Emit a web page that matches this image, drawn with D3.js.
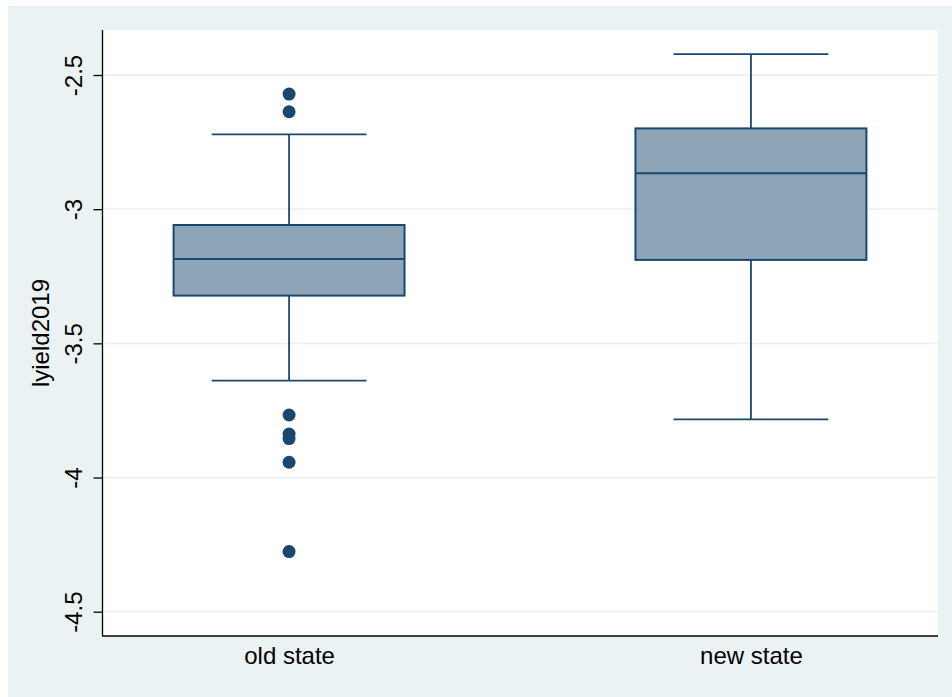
<!DOCTYPE html>
<html>
<head>
<meta charset="utf-8">
<script src="https://cdn.jsdelivr.net/npm/d3@7"></script>
<style>
  html, body { margin: 0; padding: 0; background: #ffffff; }
  svg { display: block; }
  text { font-family: "Liberation Sans", Arial, sans-serif; fill: #000; }
</style>
</head>
<body>
<svg id="chart" width="952" height="697"></svg>
<script>
// Groups and their box-plot summaries of lyield2019
const categories = ["old state", "new state"];
const q1 = [-3.322, -3.189];
const median = [-3.186, -2.866];
const q3 = [-3.059, -2.699];
const whiskerLow = [-3.639, -3.783];
const whiskerHigh = [-2.721, -2.422];
const outliers = [
  [-2.571, -2.637, -3.767, -3.838, -3.855, -3.943, -4.276],
  []
];
const yTicks = [-2.5, -3, -3.5, -4, -4.5];
const yTitle = "lyield2019";

const W = 952, H = 697;
const plot = { left: 102, right: 938, top: 30, bottom: 636 };
const navy = "#1a476f";
const boxFill = "#8ea5b8";
const bg = "#eaf2f3";

const svg = d3.select("#chart");

// Outer graph region and inner plot region
svg.append("rect").attr("x", 8).attr("y", 6).attr("width", W - 8).attr("height", H - 6).attr("fill", bg);
svg.append("rect").attr("x", plot.left).attr("y", plot.top)
  .attr("width", plot.right - plot.left).attr("height", plot.bottom - plot.top).attr("fill", "#fff");

const y = d3.scaleLinear().domain([-2.5, -4.5]).range([75, 611.7]);
const x = d3.scalePoint().domain(categories).range([plot.left, plot.right]).padding(0.405);
const step = x.step();
const boxW = step * 0.5;
const capW = step * 0.335;

// Horizontal grid lines
svg.append("g").selectAll("line").data(yTicks).join("line")
  .attr("x1", plot.left).attr("x2", plot.right)
  .attr("y1", d => y(d)).attr("y2", d => y(d))
  .attr("stroke", bg).attr("stroke-width", 1.8);

// Y axis with rotated tick labels
const yAxis = d3.axisLeft(y).tickValues(yTicks).tickSize(9).tickPadding(0).tickFormat(d3.format("~g"));
const gy = svg.append("g").attr("transform", `translate(${plot.left + 0.5},0)`).call(yAxis);
gy.select(".domain").attr("stroke", "#000").attr("stroke-width", 1.3)
  .attr("d", `M0,${plot.top}V${plot.bottom}`);
gy.selectAll(".tick line").attr("stroke", "#000").attr("stroke-width", 1.3);
gy.selectAll(".tick text")
  .attr("x", null).attr("dy", null)
  .attr("transform", "translate(-21,0) rotate(-90)")
  .attr("text-anchor", "middle")
  .style("font-size", "24px")
  .style("font-family", "'Liberation Sans', Arial, sans-serif")
  .text(d => d3.format("~g")(d).replace("\u2212", "-"));

// X axis (no ticks)
const xAxis = d3.axisBottom(x).tickSize(0).tickPadding(11);
const gx = svg.append("g").attr("transform", `translate(0,${plot.bottom})`).call(xAxis);
gx.select(".domain").attr("stroke", "#000").attr("stroke-width", 1.6)
  .attr("d", `M${plot.left},0H${plot.right}`);
gx.selectAll(".tick text")
  .attr("dy", "0.71em")
  .style("font-size", "24px")
  .style("font-family", "'Liberation Sans', Arial, sans-serif");

// Y axis title
svg.append("text")
  .attr("transform", `translate(49,${(plot.top + plot.bottom) / 2}) rotate(-90)`)
  .attr("text-anchor", "middle")
  .style("font-size", "24px")
  .text(yTitle);

// Boxes
const groups = categories.map((c, i) => ({
  c, q1: q1[i], med: median[i], q3: q3[i], lo: whiskerLow[i], hi: whiskerHigh[i], out: outliers[i]
}));
const g = svg.append("g");
groups.forEach(d => {
  const cx = x(d.c);
  // whiskers
  g.append("line").attr("x1", cx).attr("x2", cx).attr("y1", y(d.q3)).attr("y2", y(d.hi))
    .attr("stroke", navy).attr("stroke-width", 1.8);
  g.append("line").attr("x1", cx).attr("x2", cx).attr("y1", y(d.q1)).attr("y2", y(d.lo))
    .attr("stroke", navy).attr("stroke-width", 1.8);
  g.append("line").attr("x1", cx - capW / 2).attr("x2", cx + capW / 2).attr("y1", y(d.hi)).attr("y2", y(d.hi))
    .attr("stroke", navy).attr("stroke-width", 1.8);
  g.append("line").attr("x1", cx - capW / 2).attr("x2", cx + capW / 2).attr("y1", y(d.lo)).attr("y2", y(d.lo))
    .attr("stroke", navy).attr("stroke-width", 1.8);
  // box
  g.append("rect").attr("x", cx - boxW / 2).attr("y", y(d.q3))
    .attr("width", boxW).attr("height", y(d.q1) - y(d.q3))
    .attr("fill", boxFill).attr("stroke", navy).attr("stroke-width", 2);
  // median
  g.append("line").attr("x1", cx - boxW / 2).attr("x2", cx + boxW / 2).attr("y1", y(d.med)).attr("y2", y(d.med))
    .attr("stroke", navy).attr("stroke-width", 2);
  // outside values
  g.selectAll(null).data(d.out).join("circle")
    .attr("cx", cx).attr("cy", v => y(v)).attr("r", 6.5).attr("fill", navy);
});
</script>
</body>
</html>
